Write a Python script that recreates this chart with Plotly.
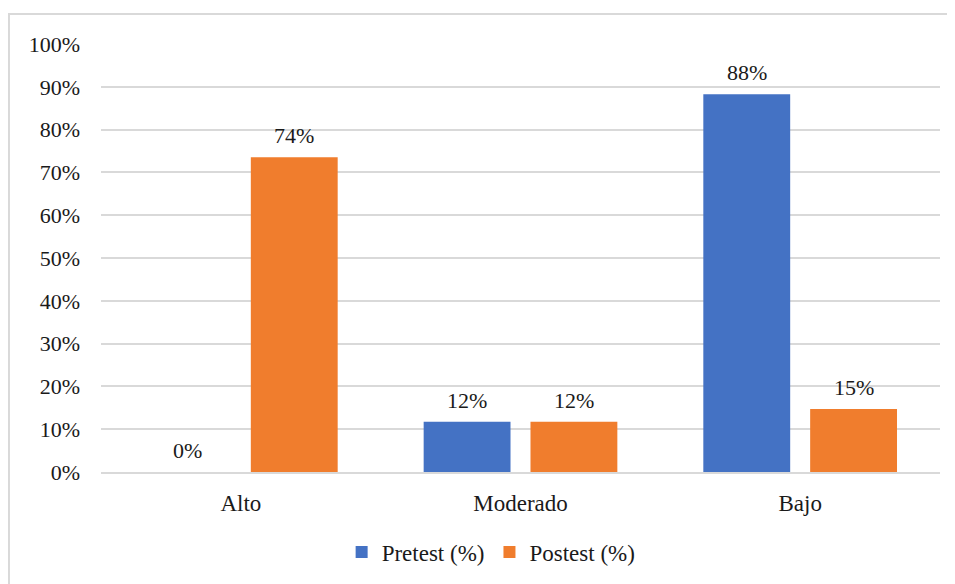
import plotly.graph_objects as go

categories = ["Alto", "Moderado", "Bajo"]
pretest = [0.0, 11.76, 88.24]
postest = [73.53, 11.76, 14.71]
pre_labels = ["0%", "12%", "88%"]
post_labels = ["74%", "12%", "15%"]
y_ticks = list(range(0, 101, 10))
y_tick_labels = [f"{v}%" for v in y_ticks]

FONT = "Times New Roman"
BARGAP = 0.236
BARGROUPGAP = 0.187

series = [("Pretest (%)", pretest, pre_labels, "#4472C4"),
          ("Postest (%)", postest, post_labels, "#F07D2D")]

fig = go.Figure()
anns = []
n = len(series)
slot = (1 - BARGAP) / n
for s, (name, vals, labels, color) in enumerate(series):
    fig.add_trace(go.Bar(
        name=name, x=categories, y=vals,
        marker=dict(color=color, line=dict(width=0)),
    ))
    off = (s - (n - 1) / 2) * slot
    for i, (v, lab) in enumerate(zip(vals, labels)):
        anns.append(dict(x=i + off, y=v, xref="x", yref="y", text=lab,
                         showarrow=False, yanchor="bottom", yshift=7,
                         font=dict(family=FONT, size=22, color="#1a1a1a")))

fig.update_layout(
    width=947, height=576,
    margin=dict(l=93, r=15, t=36, b=111),
    paper_bgcolor="white", plot_bgcolor="white",
    barmode="group", bargap=BARGAP, bargroupgap=BARGROUPGAP,
    font=dict(family=FONT, size=22, color="#1a1a1a"),
    showlegend=True,
    annotations=anns,
    legend=dict(orientation="h", x=0.465, xanchor="center", y=-0.184, yanchor="middle",
                font=dict(family=FONT, size=23, color="#1a1a1a"), itemwidth=30,
                traceorder="normal"),
    shapes=[dict(type="rect", xref="paper", yref="paper",
                 x0=-0.1097, x1=1.06, y0=-0.3, y1=1.0699,
                 line=dict(color="#d9d9d9", width=2), fillcolor="rgba(0,0,0,0)", layer="below")],
)
fig.update_yaxes(
    range=[0, 100], tickvals=y_ticks, ticktext=y_tick_labels,
    showgrid=True, gridcolor="#d9d9d9", gridwidth=1.5,
    zeroline=False, showline=False, ticks="", ticklabelstandoff=20,
    tickfont=dict(family=FONT, size=22, color="#1a1a1a"),
)
fig.update_xaxes(
    showline=True, linecolor="#d9d9d9", linewidth=1.5, ticks="",
    ticklabelstandoff=10,
    tickfont=dict(family=FONT, size=23, color="#1a1a1a"),
)

fig.write_html("out.html")
